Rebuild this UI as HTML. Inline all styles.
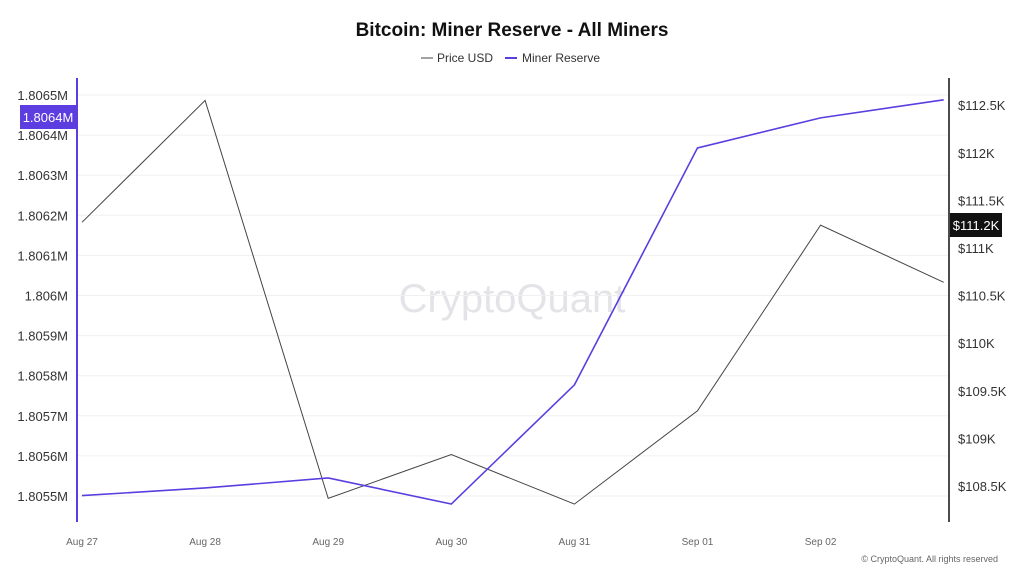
<!DOCTYPE html>
<html><head><meta charset="utf-8"><style>
body{margin:0;background:#fff;font-family:"Liberation Sans",sans-serif;}
svg{display:block}
</style></head><body>
<svg id="c" width="1024" height="576">
<text x="512" y="36" text-anchor="middle" font-size="19" font-weight="bold" fill="#111">Bitcoin: Miner Reserve - All Miners</text>
<g font-size="12" fill="#333">
<line x1="421" y1="58" x2="433" y2="58" stroke="#444"/>
<text x="437" y="62">Price USD</text>
<line x1="505" y1="58" x2="517" y2="58" stroke="#5b3de0" stroke-width="2"/>
<text x="522" y="62">Miner Reserve</text>
</g>
<text x="512" y="312" text-anchor="middle" font-size="40" fill="#e4e4e8">CryptoQuant</text>
<g id="grid"></g><g id="axes"></g><g id="marks"></g>
<text x="998" y="562" text-anchor="end" font-size="9" fill="#666">© CryptoQuant. All rights reserved</text>
</svg>
<script>
const categories=["Aug 27","Aug 28","Aug 29","Aug 30","Aug 31","Sep 01","Sep 02","Sep 03"];
const reserve=[1.805501,1.805520,1.805545,1.805480,1.805777,1.806368,1.806443,1.806488];
const price=[111.27,112.55,108.37,108.83,108.31,109.29,111.24,110.64];
const leftTicks=[1.8055,1.8056,1.8057,1.8058,1.8059,1.806,1.8061,1.8062,1.8063,1.8064,1.8065];
const leftLabels=["1.8055M","1.8056M","1.8057M","1.8058M","1.8059M","1.806M","1.8061M","1.8062M","1.8063M","1.8064M","1.8065M"];
const rightTicks=[108.5,109,109.5,110,110.5,111,111.5,112,112.5];
const rightLabels=["$108.5K","$109K","$109.5K","$110K","$110.5K","$111K","$111.5K","$112K","$112.5K"];
const NS="http://www.w3.org/2000/svg";
const x=i=>82+i*123.1;
const yL=v=>496-(v-1.8055)/0.0001*40.1;
const yR=v=>486-(v-108.5)/0.5*47.6;
function mk(t,a,p){const e=document.createElementNS(NS,t);for(const k in a)e.setAttribute(k,a[k]);p.appendChild(e);return e;}
const grid=document.getElementById('grid'),axes=document.getElementById('axes'),marks=document.getElementById('marks');
leftTicks.forEach((v,i)=>{
 const g=mk('line',{x1:78,x2:948,y1:yL(v),y2:yL(v),stroke:'#f0f0f0'},grid);
 
 
 const t=mk('text',{x:68,y:yL(v)+5,'text-anchor':'end','font-size':13,fill:'#333'},axes);
 t.textContent=leftLabels[i];
 
 
});
rightTicks.forEach((v,i)=>{
 const t=mk('text',{x:958,y:yR(v)+5,'font-size':13,fill:'#333'},axes);
 t.textContent=rightLabels[i];
 
 
});
categories.forEach((c,i)=>{
 if(i===categories.length-1)return;
 const t=mk('text',{x:x(i),y:545,'text-anchor':'middle','font-size':10,fill:'#666'},axes);
 t.textContent=c;
 
 
});
const la=mk('line',{x1:77,x2:77,y1:78,y2:522,stroke:'#5b3de0','stroke-width':2},axes);


const ra=mk('line',{x1:949,x2:949,y1:78,y2:522,stroke:'#111','stroke-width':1.5},axes);


const pp=mk('polyline',{points:price.map((v,i)=>x(i)+','+yR(v)).join(' '),fill:'none',stroke:'#444','stroke-width':1},marks);


const rp=mk('polyline',{points:reserve.map((v,i)=>x(i)+','+yL(v)).join(' '),fill:'none',stroke:'#5b3de0','stroke-width':1.6},marks);


// current value badges
const lb=mk('rect',{x:20,y:105,width:57,height:24,fill:'#5b3de0'},axes);


const lt=mk('text',{x:48,y:122,'text-anchor':'middle','font-size':13,fill:'#fff'},axes);
lt.textContent="1.8064M";


const py=yR(price[price.length-1]);
const rb=mk('rect',{x:950,y:213,width:52,height:24,fill:'#111'},axes);


const rt=mk('text',{x:976,y:230,'text-anchor':'middle','font-size':13,fill:'#fff'},axes);
rt.textContent="$111.2K";


</script>
</body></html>
